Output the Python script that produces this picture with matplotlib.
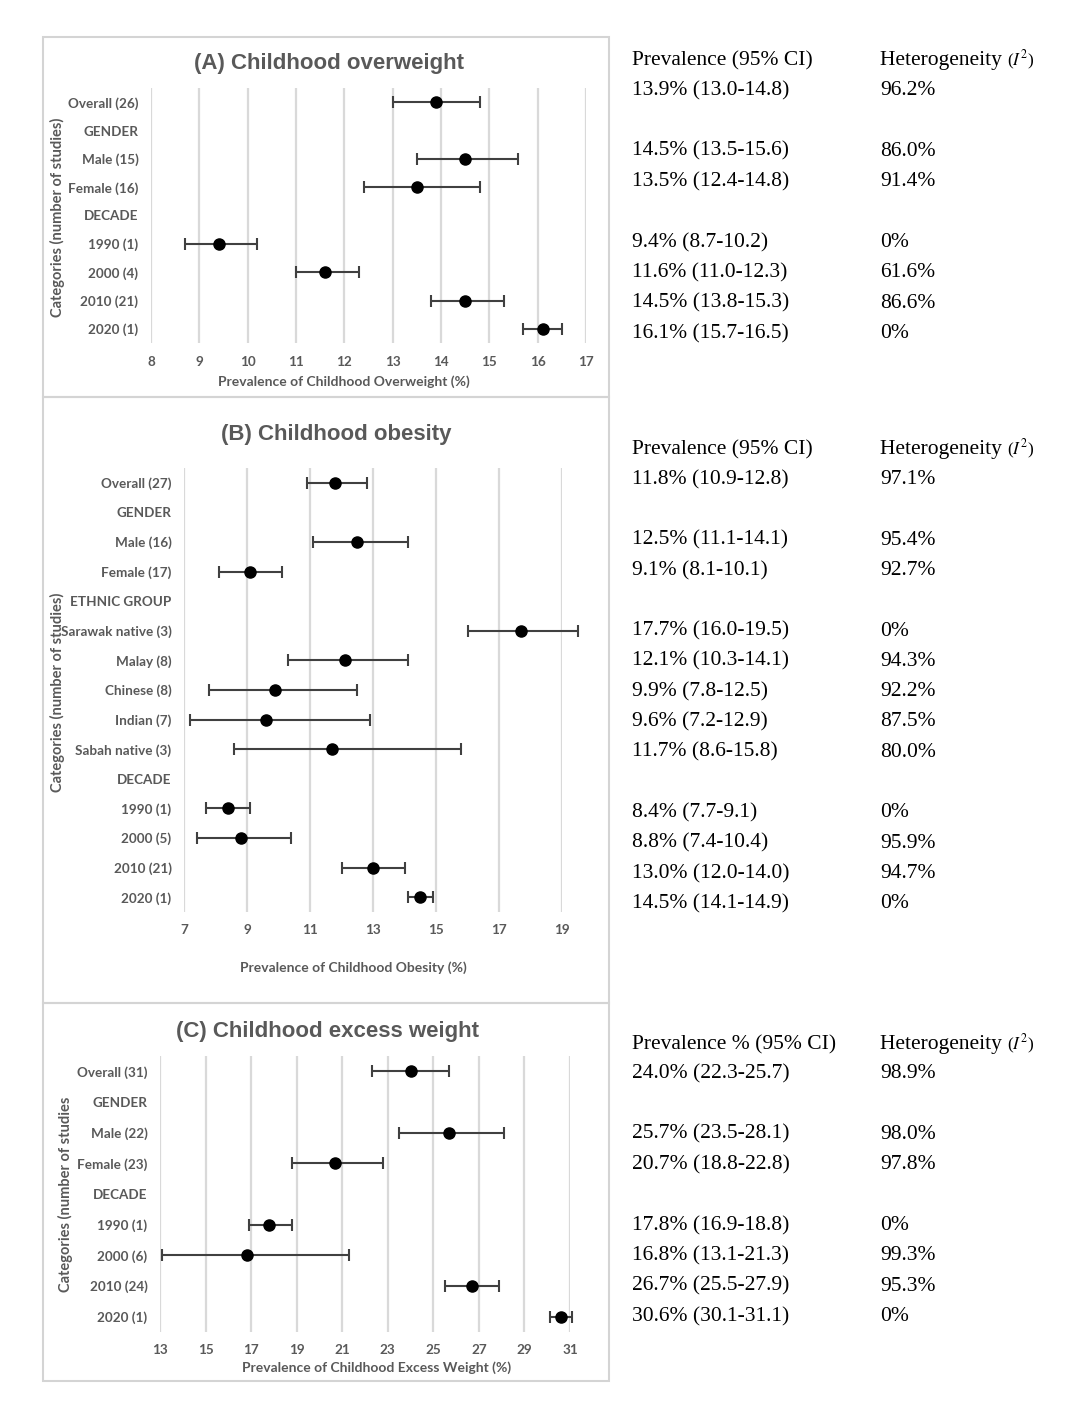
import numpy as np
import matplotlib
matplotlib.use('Agg')
import matplotlib.pyplot as plt
from matplotlib.patches import Rectangle

nan = np.nan

#panel A - childhood overweight
ow_labels = ['Overall (26)', 'GENDER', 'Male (15)', 'Female (16)', 'DECADE',
             '1990 (1)', '2000 (4)', '2010 (21)', '2020 (1)']
ow_prev = [13.9, nan, 14.5, 13.5, nan, 9.4, 11.6, 14.5, 16.1]
ow_lo = [13.0, nan, 13.5, 12.4, nan, 8.7, 11.0, 13.8, 15.7]
ow_hi = [14.8, nan, 15.6, 14.8, nan, 10.2, 12.3, 15.3, 16.5]
ow_i2 = ['96.2%', '', '86.0%', '91.4%', '', '0%', '61.6%', '86.6%', '0%']

#panel B - childhood obesity
ob_labels = ['Overall (27)', 'GENDER', 'Male (16)', 'Female (17)', 'ETHNIC GROUP',
             'Sarawak native (3)', 'Malay (8)', 'Chinese (8)', 'Indian (7)',
             'Sabah native (3)', 'DECADE', '1990 (1)', '2000 (5)', '2010 (21)', '2020 (1)']
ob_prev = [11.8, nan, 12.5, 9.1, nan, 17.7, 12.1, 9.9, 9.6, 11.7, nan, 8.4, 8.8, 13.0, 14.5]
ob_lo = [10.9, nan, 11.1, 8.1, nan, 16.0, 10.3, 7.8, 7.2, 8.6, nan, 7.7, 7.4, 12.0, 14.1]
ob_hi = [12.8, nan, 14.1, 10.1, nan, 19.5, 14.1, 12.5, 12.9, 15.8, nan, 9.1, 10.4, 14.0, 14.9]
ob_i2 = ['97.1%', '', '95.4%', '92.7%', '', '0%', '94.3%', '92.2%', '87.5%', '80.0%',
         '', '0%', '95.9%', '94.7%', '0%']

#panel C - childhood excess weight
ex_labels = ['Overall (31)', 'GENDER', 'Male (22)', 'Female (23)', 'DECADE',
             '1990 (1)', '2000 (6)', '2010 (24)', '2020 (1)']
ex_prev = [24.0, nan, 25.7, 20.7, nan, 17.8, 16.8, 26.7, 30.6]
ex_lo = [22.3, nan, 23.5, 18.8, nan, 16.9, 13.1, 25.5, 30.1]
ex_hi = [25.7, nan, 28.1, 22.8, nan, 18.8, 21.3, 27.9, 31.1]
ex_i2 = ['98.9%', '', '98.0%', '97.8%', '', '0%', '99.3%', '95.3%', '0%']

W, H = 1076, 1424
plt.rcParams['mathtext.fontset'] = 'stix'
fig = plt.figure(figsize=(W / 100, H / 100), dpi=100)
fig.patch.set_facecolor('white')

GRAY = '#595959'
SANS = ['Lato', 'DejaVu Sans']
SERIF = ['Liberation Serif', 'DejaVu Serif']
TSIZE = 15.5
TSHIFT = 2.5  #nudge table text down a little


def fx(x):
    return x / W


def fy(y):
    return 1 - y / H


def px_axes(l, t, r, b):
    return fig.add_axes([fx(l), fy(b), (r - l) / W, (b - t) / H])


def panel(box, ext, labels, prev, lo, hi, xlim, xticks, title, title_xy,
          xlabel, xlabel_xy, ylabel, ylabel_xy):
    #light grey frame round each chart
    fig.patches.append(Rectangle((fx(box[0]), fy(box[3])), (box[2] - box[0]) / W,
                                 (box[3] - box[1]) / H, transform=fig.transFigure,
                                 fill=False, edgecolor='#d4d4d4', lw=1.5))
    ax = px_axes(*ext)
    n = len(labels)
    ypos = np.arange(n)
    prev = np.array(prev)
    lo = np.array(lo)
    hi = np.array(hi)
    ok = ~np.isnan(prev)
    ax.errorbar(prev[ok], ypos[ok], xerr=[prev[ok] - lo[ok], hi[ok] - prev[ok]],
                fmt='o', color='black', ms=8, ecolor='#404040', elinewidth=1.5,
                capsize=4.5, capthick=1.5, clip_on=False, zorder=3)
    ax.set_xlim(*xlim)
    ax.set_ylim(n - 0.5, -0.5)
    ax.set_xticks(xticks)
    ax.set_xticklabels([str(t) for t in xticks])
    ax.set_yticks(ypos)
    ax.set_yticklabels(labels)
    ax.xaxis.grid(True, color='#d9d9d9', lw=1.6)
    ax.set_axisbelow(True)
    for s in ax.spines.values():
        s.set_visible(False)
    ax.tick_params(axis='y', length=0, pad=9)
    ax.tick_params(axis='x', length=0, pad=9)
    for lab in ax.get_xticklabels() + ax.get_yticklabels():
        lab.set_family(SANS)
        lab.set_fontweight('bold')
        lab.set_fontsize(9.7)
        lab.set_color(GRAY)
    fig.text(fx(title_xy[0]), fy(title_xy[1]), title, ha='center', va='center',
             family=['Liberation Sans', 'DejaVu Sans'], fontweight='bold',
             fontsize=16, color=GRAY)
    fig.text(fx(xlabel_xy[0]), fy(xlabel_xy[1]), xlabel, ha='center', va='center',
             family=SANS, fontweight='bold', fontsize=10, color=GRAY)
    fig.text(fx(ylabel_xy[0]), fy(ylabel_xy[1]), ylabel, ha='center', va='center',
             rotation=90, family=SANS, fontweight='bold', fontsize=10.5, color=GRAY)
    return ax


def table(head_y, row0, step, prev, lo, hi, i2, head1):
    head_y = head_y + TSHIFT
    fig.text(fx(632), fy(head_y), head1, ha='left', va='center', family=SERIF,
             fontsize=TSIZE, color='black')
    t = fig.text(fx(880), fy(head_y), 'Heterogeneity ', ha='left', va='center',
                 family=SERIF, fontsize=TSIZE, color='black')
    #smaller "(I2)" after the word, as in the source table
    fig.canvas.draw()
    bb = t.get_window_extent()
    fig.text(bb.x1 / W, fy(head_y), '($I^{2}$)', ha='left', va='center',
             family=SERIF, fontsize=TSIZE * 0.8, color='black')
    for k in range(len(prev)):
        if np.isnan(prev[k]):
            continue
        y = row0 + step * k + TSHIFT
        fig.text(fx(632), fy(y), '%.1f%% (%.1f-%.1f)' % (prev[k], lo[k], hi[k]),
                 ha='left', va='center', family=SERIF, fontsize=TSIZE, color='black')
        fig.text(fx(880), fy(y), i2[k], ha='left', va='center', family=SERIF,
                 fontsize=TSIZE, color='black')


#(A) overweight
panel((43, 37, 609, 397), (151, 88, 586, 343), ow_labels, ow_prev, ow_lo, ow_hi,
      (8, 17), list(range(8, 18)), '(A) Childhood overweight', (329, 63),
      'Prevalence of Childhood Overweight (%)', (344, 382),
      'Categories (number of studies)', (57, 217))
table(58, 88, 30.4, ow_prev, ow_lo, ow_hi, ow_i2, 'Prevalence (95% CI)')

#(B) obesity
panel((43, 397, 609, 1003), (184, 468, 562, 912), ob_labels, ob_prev, ob_lo, ob_hi,
      (7, 19), list(range(7, 20, 2)), '(B) Childhood obesity', (336, 435),
      'Prevalence of Childhood Obesity (%)', (353, 968),
      'Categories (number of studies)', (57, 692))
table(447, 477, 30.3, ob_prev, ob_lo, ob_hi, ob_i2, 'Prevalence (95% CI)')

#(C) excess weight
panel((43, 1003, 609, 1381), (160, 1056, 570, 1332), ex_labels, ex_prev, ex_lo, ex_hi,
      (13, 31), list(range(13, 32, 2)), '(C) Childhood excess weight', (327, 1031),
      'Prevalence of Childhood Excess Weight (%)', (377, 1368),
      'Categories (number of studies', (65, 1194))
table(1042, 1071, 30.4, ex_prev, ex_lo, ex_hi, ex_i2, 'Prevalence % (95% CI)')

fig.savefig('out.png', dpi=100, facecolor='white')
